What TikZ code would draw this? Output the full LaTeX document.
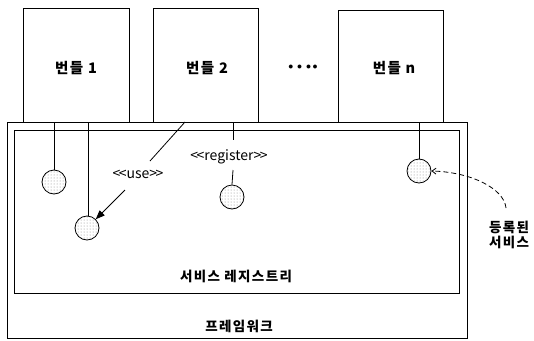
\documentclass[tikz,border=0pt]{standalone}
\usepackage{fontspec}
\setmainfont{Noto Sans CJK KR}
\newfontfamily\krfont[LetterSpace=10]{Noto Sans CJK KR}
\usetikzlibrary{arrows.meta,patterns}
\newcommand\lchev{<\kern-1.5pt<}
\newcommand\rchev{>\kern-1.5pt>}
\begin{document}
\begin{tikzpicture}[x=1pt,y=-1pt,
  frame/.style={draw,line width=0.8pt},
  svc/.style={circle,draw,line width=0.8pt,minimum size=24pt,inner sep=0pt,pattern=dots,pattern color=gray},
  lbl/.style={font=\krfont\bfseries\fontsize{13.5}{15.5}\selectfont,inner sep=1pt},
  blbl/.style={font=\krfont\bfseries\fontsize{14.5}{16}\selectfont,inner sep=1pt},
  conn/.style={line width=0.8pt},
  stereo/.style={font=\fontsize{14}{15}\selectfont,inner sep=1pt}]
\useasboundingbox (0,0) rectangle (534,340);
% framework and registry
\draw[frame] (7,122) rectangle (467,338);
\draw[frame] (14,130) rectangle (459,293);
\node[lbl] (fw) at (239,326) {프레임워크};
\node[lbl] (reg) at (236,276) {서비스 레지스트리};
% bundles
\draw[frame] (23,8) rectangle (129,122);
\draw[frame] (153,8) rectangle (258,122);
\draw[frame] (338,10) rectangle (443,122);
\node[blbl] (b1) at (76,68) {번들 1};
\node[blbl] (b2) at (207,68) {번들 2};
\node[blbl] (bn) at (394,68) {번들 n};
\node[font=\fontsize{10}{12}\selectfont] (dots) at (303,67) {$\bullet\,\bullet\,\bullet\,\bullet$};
% services
\node[svc] (c1) at (54,182) {};
\node[svc] (c2) at (87,228) {};
\node[svc] (c3) at (232,197) {};
\node[svc] (c4) at (419,171) {};
\coordinate (t1) at (54,122);
\coordinate (t2) at (88,122);
\coordinate (t3) at (233,122);
\coordinate (t4) at (419,122);
\coordinate (tu) at (185,122);
\draw[conn] (t1) -- (c1.north);
\draw[conn] (t2) -- (88,216);
\node[stereo] (regtxt) at (229,157) {\lchev register\rchev};
\draw[conn] (t3) -- (233,140);
\draw[conn] (233,170) -- (c3.north);
\draw[conn] (t4) -- (c4.north);
\node[stereo] (use) at (138,174) {\lchev use\rchev};
\draw[conn] (tu) -- (150,161);
\draw[conn,-{Triangle[length=9pt,width=7pt]}] (125,190) -- (c2.north east);
% registered service label
\node[lbl,align=center] (rs) at (509,235) {등록된\\서비스};
\draw[conn,dashed,dash pattern=on 5pt off 3pt,-{Straight Barb[length=4pt,width=6pt]}] (506,208) .. controls (504,188) and (470,172) .. (c4.east);
\end{tikzpicture}
\end{document}
